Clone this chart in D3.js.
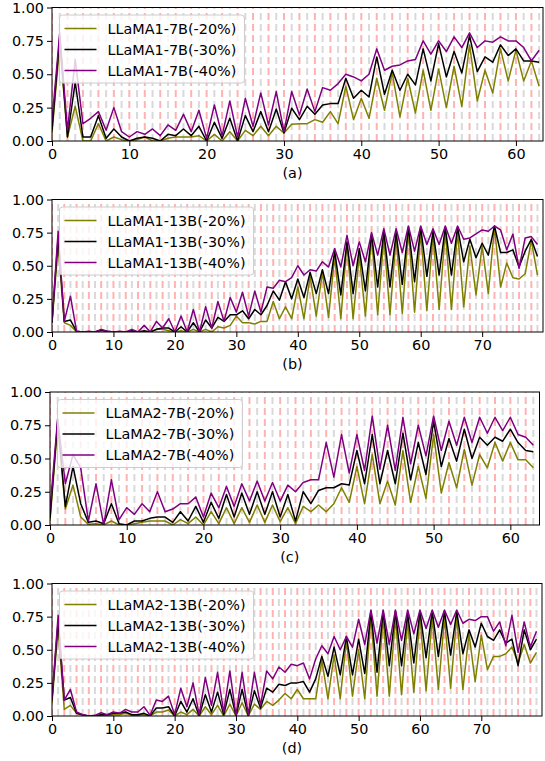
<!DOCTYPE html>
<html><head><meta charset="utf-8">
<script src="https://cdn.jsdelivr.net/npm/d3@7"></script>
<style>body{margin:0;background:#fff} svg{display:block} text{font-family:"DejaVu Sans",sans-serif}</style>
</head><body><svg id="c" width="545" height="761"></svg>
<script>
// ---------- data ----------
const labelsA = ["LLaMA1-7B(-20%)", "LLaMA1-7B(-30%)", "LLaMA1-7B(-40%)"];
const labelsB = ["LLaMA1-13B(-20%)", "LLaMA1-13B(-30%)", "LLaMA1-13B(-40%)"];
const labelsC = ["LLaMA2-7B(-20%)", "LLaMA2-7B(-30%)", "LLaMA2-7B(-40%)"];
const labelsD = ["LLaMA2-13B(-20%)", "LLaMA2-13B(-30%)", "LLaMA2-13B(-40%)"];
const captions = ["(a)", "(b)", "(c)", "(d)"];
const yTicks = [0, 0.25, 0.5, 0.75, 1.0];
const xTicks64 = [0, 10, 20, 30, 40, 50, 60];
const xTicks80 = [0, 10, 20, 30, 40, 50, 60, 70];

const a20 = [0.06,0.72,0.03,0.26,0.0,0.0,0.13,0.0,0.03,0.01, 0.0,0.01,0.03,0.0,0.0,0.02,0.03,0.03,0.03,0.04, 0.0,0.05,0.0,0.07,0.0,0.08,0.04,0.11,0.04,0.11, 0.06,0.125,0.13,0.13,0.16,0.14,0.22,0.13,0.41,0.16, 0.32,0.17,0.47,0.23,0.51,0.18,0.47,0.21,0.53,0.23, 0.54,0.25,0.56,0.26,0.72,0.30,0.53,0.36,0.69,0.45, 0.68,0.45,0.60,0.41];
const a30 = [0.08,0.78,0.03,0.44,0.03,0.03,0.19,0.02,0.09,0.03, 0.0,0.02,0.03,0.02,0.0,0.05,0.04,0.09,0.04,0.11, 0.0,0.14,0.02,0.17,0.0,0.19,0.07,0.22,0.07,0.24, 0.06,0.245,0.16,0.26,0.20,0.27,0.28,0.28,0.47,0.32, 0.38,0.33,0.63,0.35,0.53,0.38,0.50,0.42,0.69,0.45, 0.73,0.48,0.67,0.51,0.79,0.52,0.63,0.59,0.72,0.64, 0.69,0.60,0.60,0.59];
const a40 = [0.15,0.81,0.08,0.61,0.13,0.17,0.22,0.08,0.25,0.07, 0.03,0.07,0.05,0.09,0.04,0.12,0.08,0.20,0.07,0.23, 0.02,0.27,0.04,0.30,0.03,0.32,0.11,0.36,0.12,0.37, 0.07,0.37,0.195,0.39,0.22,0.40,0.38,0.43,0.50,0.48, 0.45,0.50,0.69,0.53,0.56,0.57,0.60,0.61,0.75,0.65, 0.75,0.67,0.78,0.70,0.81,0.70,0.75,0.74,0.78,0.75, 0.75,0.70,0.60,0.68];

const b20 = [0.07,0.65,0.07,0.05,0.0,0.0,0.0,0.0,0.01,0.0, 0.0,0.0,0.0,0.0,0.0,0.0,0.0,0.02,0.02,0.01, 0.0,0.01,0.0,0.02,0.0,0.02,0.0,0.04,0.03,0.05, 0.12,0.07,0.07,0.06,0.08,0.08,0.23,0.10,0.19,0.10, 0.34,0.10,0.42,0.12,0.45,0.11,0.57,0.10,0.66,0.10, 0.58,0.12,0.72,0.13,0.71,0.13,0.71,0.14,0.76,0.15, 0.75,0.16,0.73,0.17,0.76,0.17,0.76,0.19,0.65,0.28, 0.65,0.29,0.79,0.34,0.52,0.41,0.40,0.44,0.69,0.43];
const b30 = [0.07,0.72,0.08,0.09,0.005,0.0,0.0,0.0,0.015,0.005, 0.0,0.0,0.0,0.01,0.0,0.01,0.0,0.02,0.03,0.03, 0.0,0.04,0.0,0.07,0.0,0.09,0.03,0.11,0.08,0.13, 0.13,0.16,0.10,0.17,0.13,0.20,0.31,0.24,0.38,0.25, 0.40,0.26,0.45,0.29,0.47,0.29,0.61,0.28,0.68,0.29, 0.63,0.31,0.74,0.34,0.76,0.34,0.75,0.36,0.79,0.38, 0.79,0.42,0.76,0.43,0.79,0.43,0.79,0.53,0.70,0.56, 0.67,0.58,0.80,0.60,0.60,0.62,0.49,0.61,0.70,0.57];
const b40 = [0.08,0.76,0.08,0.27,0.005,0.0,0.005,0.0,0.02,0.005, 0.0,0.005,0.0,0.02,0.0,0.05,0.0,0.08,0.03,0.10, 0.0,0.12,0.0,0.17,0.0,0.19,0.03,0.23,0.08,0.26, 0.15,0.30,0.12,0.31,0.15,0.34,0.33,0.39,0.38,0.41, 0.50,0.43,0.47,0.46,0.53,0.49,0.63,0.49,0.73,0.50, 0.68,0.53,0.75,0.58,0.78,0.58,0.78,0.60,0.80,0.61, 0.80,0.66,0.78,0.66,0.80,0.67,0.80,0.70,0.71,0.74, 0.77,0.76,0.80,0.77,0.62,0.74,0.48,0.71,0.72,0.66];

const c20 = [0.03,0.75,0.12,0.30,0.06,0.005,0.01,0.0,0.03,0.0, 0.0,0.01,0.02,0.03,0.03,0.03,0.0,0.04,0.01,0.06, 0.0,0.10,0.01,0.13,0.01,0.13,0.02,0.15,0.02,0.15, 0.025,0.13,0.01,0.14,0.10,0.15,0.10,0.16,0.28,0.17, 0.44,0.16,0.53,0.16,0.33,0.15,0.56,0.17,0.44,0.20, 0.68,0.24,0.47,0.28,0.57,0.30,0.53,0.43,0.62,0.48, 0.62,0.49,0.49,0.43];
const c30 = [0.05,0.78,0.14,0.44,0.16,0.02,0.03,0.01,0.16,0.01, 0.0,0.03,0.03,0.05,0.06,0.06,0.02,0.10,0.03,0.14, 0.02,0.17,0.05,0.23,0.06,0.24,0.08,0.25,0.08,0.25, 0.06,0.23,0.03,0.25,0.16,0.26,0.28,0.28,0.31,0.30, 0.56,0.31,0.68,0.31,0.56,0.31,0.69,0.34,0.62,0.38, 0.78,0.44,0.65,0.48,0.72,0.50,0.66,0.60,0.66,0.63, 0.72,0.62,0.56,0.55];
const c40 = [0.12,0.80,0.31,0.53,0.43,0.03,0.31,0.0,0.34,0.04, 0.13,0.08,0.16,0.10,0.25,0.10,0.12,0.16,0.16,0.21, 0.06,0.24,0.13,0.29,0.14,0.31,0.18,0.33,0.18,0.32, 0.18,0.30,0.25,0.32,0.34,0.34,0.62,0.36,0.68,0.39, 0.68,0.41,0.82,0.42,0.75,0.41,0.81,0.46,0.75,0.52, 0.82,0.56,0.78,0.60,0.81,0.62,0.81,0.69,0.81,0.71, 0.81,0.68,0.66,0.60];

const d20 = [0.10,0.66,0.05,0.08,0.02,0.005,0.0,0.0,0.005,0.0, 0.01,0.01,0.02,0.005,0.005,0.01,0.0,0.03,0.03,0.045, 0.0,0.03,0.01,0.05,0.0,0.07,0.01,0.08,0.0,0.09, 0.0,0.10,0.0,0.09,0.05,0.11,0.08,0.12,0.17,0.13, 0.20,0.13,0.13,0.13,0.42,0.13,0.46,0.13,0.57,0.15, 0.50,0.13,0.75,0.15,0.74,0.15,0.74,0.16,0.72,0.18, 0.75,0.19,0.74,0.20,0.74,0.21,0.75,0.20,0.62,0.26, 0.61,0.35,0.45,0.45,0.47,0.52,0.40,0.54,0.40,0.48];
const d30 = [0.12,0.72,0.12,0.14,0.02,0.01,0.0,0.0,0.01,0.01, 0.02,0.02,0.03,0.01,0.01,0.02,0.0,0.06,0.06,0.07, 0.0,0.11,0.03,0.13,0.0,0.16,0.03,0.18,0.01,0.20, 0.0,0.20,0.0,0.19,0.06,0.21,0.18,0.24,0.23,0.25, 0.25,0.26,0.18,0.28,0.45,0.30,0.52,0.31,0.60,0.31, 0.58,0.32,0.79,0.33,0.79,0.38,0.79,0.38,0.77,0.40, 0.79,0.44,0.79,0.45,0.79,0.46,0.79,0.47,0.65,0.52, 0.70,0.60,0.57,0.65,0.55,0.58,0.38,0.65,0.50,0.58];
const d40 = [0.13,0.76,0.12,0.20,0.03,0.01,0.0,0.005,0.025,0.01, 0.03,0.02,0.05,0.03,0.03,0.07,0.005,0.12,0.11,0.15, 0.01,0.21,0.07,0.25,0.01,0.29,0.08,0.33,0.03,0.34, 0.005,0.33,0.01,0.33,0.08,0.34,0.28,0.37,0.33,0.39, 0.38,0.40,0.28,0.43,0.53,0.47,0.60,0.50,0.60,0.52, 0.73,0.54,0.80,0.55,0.80,0.54,0.80,0.57,0.80,0.62, 0.80,0.66,0.80,0.67,0.80,0.69,0.80,0.70,0.73,0.72, 0.75,0.75,0.64,0.71,0.53,0.76,0.48,0.71,0.52,0.64];

const seriesColors = ["#808000", "#000000", "#800080"];

// ---------- layout ----------
const panels = [
  {series: [a20, a30, a40], labels: labelsA, xTicks: xTicks64, cap: captions[0], left: 52, right: 543, top: 7.5, bottom: 141, xmax: 63.5},
  {series: [b20, b30, b40], labels: labelsB, xTicks: xTicks80, cap: captions[1], left: 52, right: 543, top: 199.5, bottom: 332, xmax: 79.9},
  {series: [c20, c30, c40], labels: labelsC, xTicks: xTicks64, cap: captions[2], left: 50, right: 539.5, top: 392, bottom: 525, xmax: 63.8},
  {series: [d20, d30, d40], labels: labelsD, xTicks: xTicks80, cap: captions[3], left: 52, right: 542, top: 583.5, bottom: 716, xmax: 79.9}
];

const svg = d3.select("#c");
const FS = 14.4;

panels.forEach((p, pi) => {
  const n = p.series[0].length;
  const x = d3.scaleLinear().domain([0, p.xmax]).range([p.left, p.right]);
  const y = d3.scaleLinear().domain([0, 1]).range([p.bottom, p.top]);
  const g = svg.append("g");
  const clipId = "clip" + pi;
  g.append("clipPath").attr("id", clipId).append("rect")
    .attr("x", p.left).attr("y", p.top).attr("width", p.right - p.left).attr("height", p.bottom - p.top);

  // vertical dashed lines
  const vg = g.append("g").attr("clip-path", `url(#${clipId})`);
  vg.selectAll("line.v").data(d3.range(n)).join("line")
    .attr("x1", d => x(d)).attr("x2", d => x(d))
    .attr("y1", p.bottom).attr("y2", p.top)
    .attr("stroke", d => d % 2 === 0 ? "rgba(255,0,0,0.3)" : "rgba(128,128,128,0.3)")
    .attr("stroke-width", 2)
    .attr("stroke-dasharray", "7,4");

  // data lines
  const line = d3.line().x((d, i) => x(i)).y(d => y(d));
  const lg = g.append("g").attr("clip-path", `url(#${clipId})`);
  p.series.forEach((s, si) => {
    lg.append("path").attr("d", line(s)).attr("fill", "none")
      .attr("stroke", seriesColors[si]).attr("stroke-width", 1.5)
      .attr("stroke-linejoin", "round").attr("stroke-linecap", "butt");
  });

  // axes
  const xAxis = d3.axisBottom(x).tickValues(p.xTicks).tickFormat(d3.format("d")).tickSize(5).tickPadding(3);
  const yAxis = d3.axisLeft(y).tickValues(yTicks).tickFormat(d3.format(".2f")).tickSize(5).tickPadding(3);
  const gx = g.append("g").attr("transform", `translate(0,${p.bottom})`).call(xAxis);
  const gy = g.append("g").attr("transform", `translate(${p.left},0)`).call(yAxis);
  [gx, gy].forEach(ax => {
    ax.select(".domain").remove();
    ax.selectAll("text").attr("font-size", FS).attr("font-family", "DejaVu Sans").attr("fill", "#000");
    ax.selectAll("line").attr("stroke", "#000").attr("stroke-width", 1);
  });
  // frame
  g.append("rect").attr("x", p.left).attr("y", p.top).attr("width", p.right - p.left).attr("height", p.bottom - p.top)
    .attr("fill", "none").attr("stroke", "#000").attr("stroke-width", 1);

  // caption
  g.append("text").attr("x", (p.left + p.right) / 2 - 5).attr("y", p.bottom + 37)
    .attr("text-anchor", "middle").attr("font-size", FS).text(p.cap);

  // legend
  const lx = p.left + 7.5, ly = p.top + 7.5;
  const leg = g.append("g");
  const box = leg.append("rect").attr("x", lx).attr("y", ly).attr("height", 68).attr("rx", 3)
    .attr("fill", "rgba(255,255,255,0.8)").attr("stroke", "#cccccc").attr("stroke-width", 1);
  let maxW = 0;
  p.labels.forEach((lab, li) => {
    const cy = ly + 13.5 + li * 21;
    leg.append("line").attr("x1", lx + 5).attr("x2", lx + 37).attr("y1", cy).attr("y2", cy)
      .attr("stroke", seriesColors[li]).attr("stroke-width", 1.5);
    const t = leg.append("text").attr("x", lx + 48).attr("y", cy + 5).attr("font-size", FS).text(lab);
    maxW = Math.max(maxW, t.node().getComputedTextLength());
  });
  box.attr("width", 48 + maxW + 8);
});
</script></body></html>
